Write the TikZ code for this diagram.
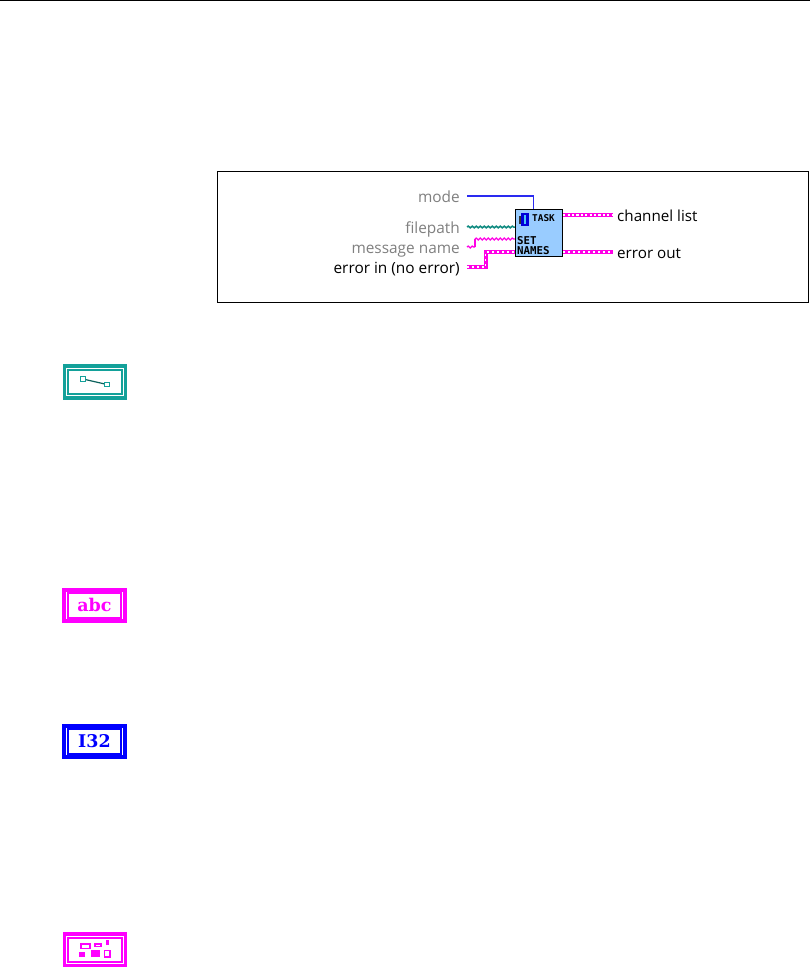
\documentclass[tikz,border=0pt]{standalone}
\usepackage{fontspec}
\setmainfont{Open Sans}
\newfontfamily\blockfont{DejaVu Sans Mono}
\newfontfamily\iconfont{DejaVu Serif}
\usetikzlibrary{decorations.pathmorphing,calc}
\definecolor{wteal}{HTML}{0E8A80}
\definecolor{wmag}{HTML}{FF00E6}
\definecolor{wblue}{HTML}{2A2AF0}
\definecolor{iteal}{HTML}{13A19A}
\definecolor{imag}{HTML}{FF00FF}
\definecolor{iblue}{HTML}{0000FF}
\definecolor{blockblue}{HTML}{99CCFF}
\definecolor{labgrey}{HTML}{808080}
\tikzset{
  x=1pt,y=-1pt,
  lab/.style={font=\fontsize{15.4}{17}\selectfont,inner sep=0pt,anchor=mid east},
  labr/.style={font=\fontsize{15.2}{17}\selectfont,inner sep=0pt,anchor=mid west},
  frameline/.style={draw=black,line width=0.7pt},
  numw/.style={draw=wblue,line width=1.4pt},
  pathw/.style={draw=wteal,line width=1.5pt,decorate,decoration={snake,segment length=4pt,amplitude=0.9pt}},
  strw/.style={draw=wmag,line width=1.3pt,decorate,decoration={snake,segment length=4pt,amplitude=0.9pt}},
  clusterw/.style={draw=wmag,line width=4pt},
  clusterin/.style={draw=white,line width=1.1pt,dash pattern=on 2pt off 3pt},
  arrw/.style={draw=wmag,line width=3.2pt},
  arrin/.style={draw=white,line width=1.7pt,dash pattern=on 2.2pt off 2.2pt},
  vi/.style={draw=black,line width=1.5pt,fill=blockblue,minimum width=47pt,minimum height=47pt,inner sep=0pt},
  icon/.style={draw=#1,line width=3.8pt,fill=white,minimum width=61pt,minimum height=31.5pt,inner sep=0pt},
  iconin/.style={draw=#1,line width=1.9pt},
  itxt/.style={font=\iconfont\bfseries\fontsize{17.5}{17.5}\selectfont,inner sep=0pt},
  tasktxt/.style={font=\blockfont\bfseries\fontsize{9.4}{10}\selectfont,inner sep=0pt},
  settxt/.style={font=\blockfont\bfseries\fontsize{10.8}{11}\selectfont,inner sep=0pt},
}
\begin{document}
\begin{tikzpicture}
\useasboundingbox (0,0) rectangle (810,967);
\fill[white] (0,0) rectangle (810,967);
\coordinate (tl) at (0,0.6);
\coordinate (tr) at (810,0.6);
\draw[line width=1pt] (tl) -- (tr);
\node[frameline,minimum width=591pt,minimum height=131pt,inner sep=0pt] (frame) at (512.5,236.5) {};

% labels
\node[lab,text=labgrey] (lmode) at (460,200) {mode};
\node[lab,text=labgrey] (lfile) at (460,231) {filepath};
\node[lab,text=labgrey] (lmsg) at (460,251) {message name};
\node[lab,text=black] (lerr) at (460,271) {error in (no error)};
\node[labr] (lchan) at (617,219) {channel list};
\node[labr] (lout) at (617,256) {error out};

% block
\node[vi] (block) at (539,233) {};
\coordinate (modeS) at (467,196);
\coordinate (fileS) at (467,227);
\coordinate (msgS) at (467,247);
\coordinate (errS) at (467,267);
\coordinate (chanE) at (613,215);
\coordinate (outE) at (613,252);
\coordinate (fileT) at (block.west |- fileS);
\coordinate (msgT) at (block.west |- 0,239);
\coordinate (errT) at (block.west |- 0,252);
\coordinate (chanF) at (block.east |- chanE);
\coordinate (outF) at (block.east |- outE);
\coordinate (modeT) at (533.5,209.5);

% wires
\draw[numw] (modeS) -| (modeT);
\draw[pathw] (fileS) -- (fileT);
\draw[strw] (msgS) -- (475,247);
\draw[draw=wmag,line width=1.3pt] (475,247) -- (475,239);
\draw[strw] (475,239) -- (msgT);
\draw[clusterw] (errS) -- (485.5,267) -- (485.5,252) -- (errT);
\draw[clusterin] (errS) -- (485.5,267) -- (485.5,252) -- (errT);
\draw[arrw] (chanF) -- (chanE);
\draw[arrin] (chanF) -- (chanE);
\draw[clusterw] (outF) -- (outE);
\draw[clusterin] (outF) -- (outE);

\node[vi] (block2) at (539,233) {};
\node[tasktxt,anchor=west] (ttask) at (532,218.5) {TASK};
\node[settxt,anchor=west] (tset) at (517,241) {SET};
\node[settxt,anchor=west] (tnames) at (517,250.5) {NAMES};
% task glyph
\fill[black!80] (518.5,216) rectangle (520.5,224);
\fill[blue!85!black] (521,212.5) rectangle (528.5,226);
\fill[cyan!70] (523.5,215) rectangle (526,224);

% icons
\node[icon=iteal] (i1) at (95,382) {};
\draw[iconin=iteal] ($(i1.north west)+(5.5,5.5)$) rectangle ($(i1.south east)+(-5.5,-5.5)$);
\node[draw=iteal,fill=white,line width=1.4pt,minimum size=4.5pt,inner sep=0pt] (d1) at (83,379) {};
\node[draw=iteal,fill=white,line width=1.4pt,minimum size=4.5pt,inner sep=0pt] (d2) at (107,384.5) {};
\draw[iteal!60!black,line width=1.2pt] (d1) -- (d2);

\node[icon=imag] (i2) at (94.5,605.5) {};
\draw[iconin=imag] ($(i2.north west)+(5.5,5.5)$) rectangle ($(i2.south east)+(-5.5,-5.5)$);
\node[itxt,text=imag] (tabc) at (94.5,605) {abc};

\node[icon=iblue] (i3) at (94.5,741.5) {};
\draw[iconin=iblue] ($(i3.north west)+(5.5,5.5)$) rectangle ($(i3.south east)+(-5.5,-5.5)$);
\node[itxt,text=iblue] (ti32) at (94.5,741.5) {I32};

\node[icon=imag] (i4) at (95,950) {};
\draw[iconin=imag] ($(i4.north west)+(5.5,5.5)$) rectangle ($(i4.south east)+(-5.5,-5.5)$);
\draw[imag,line width=1.4pt] (81,944) rectangle (90,948.5);
\draw[imag,line width=1.4pt] (95,944) rectangle (101,946.5);
\fill[imag] (106,940) rectangle (109,945);
\fill[imag] (79,951.5) rectangle (85,956.5);
\fill[imag] (91,950) rectangle (99.5,957);
\draw[imag,line width=1.4pt] (104.5,950.5) rectangle (110,957);
\end{tikzpicture}
\end{document}
